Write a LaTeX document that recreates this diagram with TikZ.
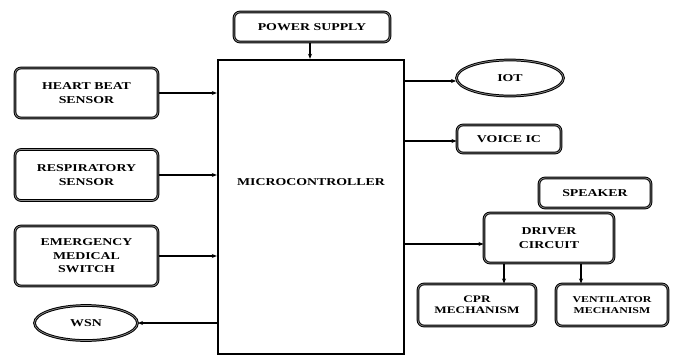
\documentclass[tikz,border=0pt]{standalone}
\usepackage{fontspec}
\setmainfont{Liberation Serif}[FakeStretch=1.32]
\usetikzlibrary{arrows.meta,shapes.geometric}
\tikzset{
  blk/.style={draw=black, line width=1pt, double=black!45, double distance=0.7pt,
    rounded corners=6pt, align=center, inner sep=0pt,
    font=\bfseries\fontsize{10.5}{13.5}\selectfont},
  oval/.style={ellipse, draw=black, line width=1pt, double=black!45, double distance=0.7pt,
    inner sep=0pt, font=\bfseries\fontsize{10.5}{13.5}\selectfont},
  mcu/.style={draw=black, line width=2.4pt, inner sep=0pt},
  lbl/.style={font=\bfseries\fontsize{10.5}{13.5}\selectfont, inner sep=0pt},
  arr/.style={line width=1.2pt, -{Stealth[length=5pt,width=4pt]}},
}
\begin{document}
\begin{tikzpicture}[x=1pt,y=-1pt]
\useasboundingbox (0,0) rectangle (676,356);
\node[blk, minimum width=156pt, minimum height=30pt] (power) at (312,27) {POWER SUPPLY};
\node[mcu, minimum width=186pt, minimum height=294pt] (micro) at (311,207) {};
\node[lbl] (microlbl) at (311,182) {MICROCONTROLLER};
\node[blk, minimum width=143pt, minimum height=50pt] (heart) at (86.5,93) {HEART BEAT\\SENSOR};
\node[blk, minimum width=143pt, minimum height=51pt] (resp) at (86.5,175) {RESPIRATORY\\SENSOR};
\node[blk, minimum width=143pt, minimum height=60pt] (emerg) at (86.5,256) {EMERGENCY\\MEDICAL\\SWITCH};
\node[oval, minimum width=103pt, minimum height=35pt] (wsn) at (86,323) {WSN};
\node[oval, minimum width=107pt, minimum height=36pt] (iot) at (510,78) {IOT};
\node[blk, minimum width=104pt, minimum height=28pt] (voice) at (509,139) {VOICE IC};
\node[blk, minimum width=112pt, minimum height=30pt] (speaker) at (595,193) {SPEAKER};
\node[blk, minimum width=130pt, minimum height=50pt] (driver) at (549,238) {DRIVER\\CIRCUIT};
\node[blk, minimum width=118pt, minimum height=42pt, font=\bfseries\fontsize{10}{11}\selectfont] (cpr) at (477,305) {CPR\\MECHANISM};
\node[blk, minimum width=112pt, minimum height=42pt, font=\bfseries\fontsize{9}{11}\selectfont] (vent) at (612,305) {VENTILATOR\\MECHANISM};

\draw[arr, line width=1.6pt] ([xshift=-2pt]power.south) -- ([xshift=-2pt]power.south |- micro.north);
\draw[arr] (heart.east) -- (heart.east -| micro.west);
\draw[arr] (resp.east) -- (resp.east -| micro.west);
\draw[arr] (emerg.east) -- (emerg.east -| micro.west);
\draw[arr] (wsn.east -| micro.west) -- (wsn.east);
\draw[arr] ([yshift=-3pt]iot.west -| micro.east) -- ([yshift=-3pt]iot.west);
\draw[arr] ([yshift=-2pt]voice.west -| micro.east) -- ([yshift=-2pt]voice.west);
\draw[arr] ([yshift=-6pt]driver.west -| micro.east) -- ([yshift=-6pt]driver.west);
\draw[arr, line width=1.6pt] ([xshift=-45pt]driver.south) -- ([xshift=-45pt]driver.south |- cpr.north);
\draw[arr, line width=1.6pt] ([xshift=32pt]driver.south) -- ([xshift=32pt]driver.south |- vent.north);
\end{tikzpicture}
\end{document}
